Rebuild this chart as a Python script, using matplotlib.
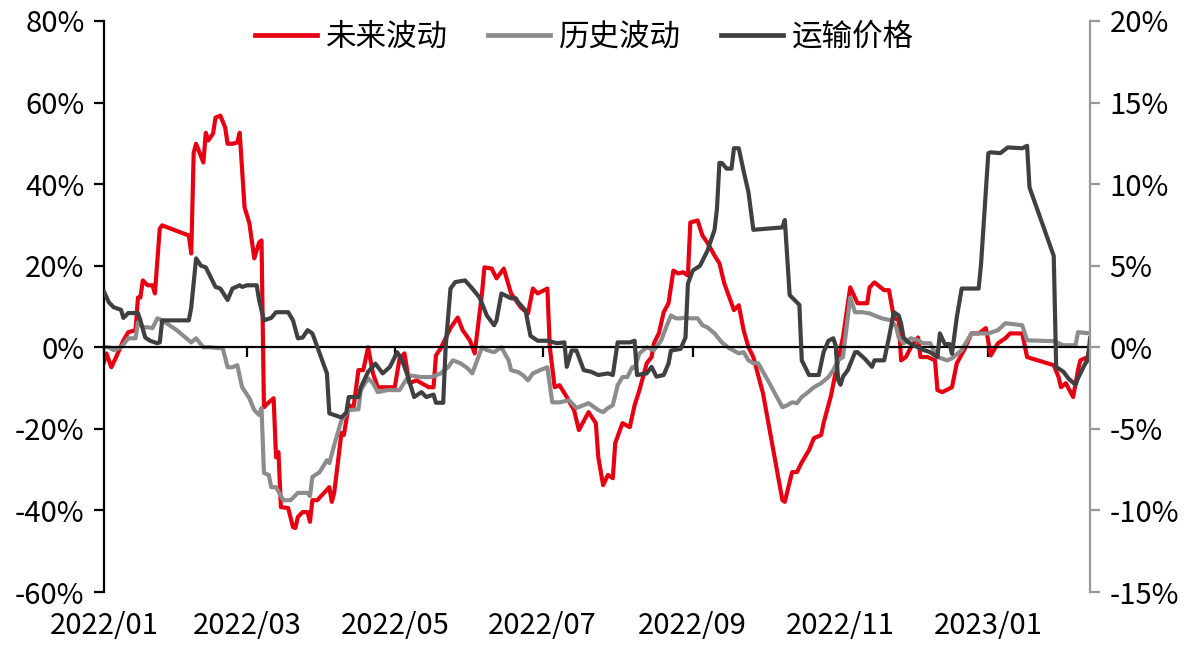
import matplotlib
matplotlib.use('Agg')
import matplotlib.pyplot as plt
import matplotlib.dates as mdates
from matplotlib.ticker import FixedLocator, FuncFormatter
import pandas as pd

plt.rcParams['font.family'] = ['Noto Sans CJK SC', 'DejaVu Sans']

# ---------------- data ----------------
START = '2022-01-04'
END = '2023-02-15'
tick_dates = ['2022-01-04', '2022-03-04', '2022-05-04', '2022-07-04',
              '2022-09-04', '2022-11-04', '2023-01-04']
tick_labels = ['2022/01', '2022/03', '2022/05', '2022/07', '2022/09', '2022/11', '2023/01']

series_names = ['未来波动', '历史波动', '运输价格']

# 未来波动 (left axis, %) : day offset from START, value
red_days = [0, 1, 3, 5, 8, 10, 13, 14, 15, 16,
            18, 20, 21, 23, 24, 35, 36, 37, 38, 41,
            42, 43, 45, 46, 48, 50, 51, 53, 55, 56,
            58, 60, 62, 64, 65, 66, 68, 70, 71, 72,
            73, 76, 78, 79, 80, 82, 84, 85, 86, 88,
            93, 94, 95, 98, 99, 101, 103, 105, 107, 109,
            111, 113, 115, 120, 122, 124, 126, 129, 134, 136,
            137, 139, 143, 146, 148, 151, 153, 156, 157, 160,
            162, 165, 168, 172, 175, 177, 179, 183, 184, 186,
            188, 191, 194, 196, 200, 203, 204, 206, 208, 210,
            211, 214, 217, 219, 221, 224, 226, 227, 229, 231,
            233, 235, 237, 239, 241, 242, 245, 247, 249, 252,
            254, 256, 260, 262, 264, 266, 268, 272, 280, 281,
            284, 286, 288, 291, 293, 296, 297, 300, 303, 305,
            308, 311, 315, 316, 318, 322, 324, 326, 328, 329,
            331, 333, 336, 337, 340, 343, 344, 346, 350, 352,
            355, 358, 361, 364, 366, 369, 372, 374, 379, 381,
            392, 394, 395, 397, 400, 402, 403, 406, 407]
red_vals = [-3.6, -1.5, -4.9, -2.4, 1.7, 3.7, 4.2, 12.2, 12.2, 16.4,
            15.2, 15.2, 13.2, 29.1, 29.9, 27.4, 23.0, 47.7, 49.9, 45.3,
            52.6, 50.7, 52.4, 56.3, 56.8, 53.9, 49.9, 49.9, 50.2, 52.6,
            34.3, 30.4, 21.8, 25.7, 26.2, -14.7, -13.5, -12.5, -27.0, -25.7,
            -39.2, -39.4, -44.1, -44.3, -41.6, -40.4, -40.4, -42.8, -37.5, -37.5,
            -34.3, -37.9, -35.7, -21.0, -21.5, -14.2, -14.7, -5.6, -5.6, 0.0,
            -6.4, -9.8, -9.8, -9.8, -2.7, -1.5, -8.8, -8.1, -9.8, -9.8,
            -2.0, -0.2, 4.7, 7.3, 4.2, 1.7, -1.5, 13.2, 19.6, 19.3,
            16.9, 19.3, 13.2, 9.8, 8.3, 14.4, 13.2, 14.4, 0.0, -9.8,
            -9.3, -12.2, -15.4, -20.3, -15.9, -18.6, -26.9, -33.8, -31.3, -32.1,
            -23.5, -18.6, -19.6, -14.2, -10.5, -3.9, -2.4, 1.0, 3.4, 8.6,
            10.8, 18.8, 18.1, 18.4, 17.6, 30.6, 31.1, 27.4, 25.7, 22.5,
            20.6, 15.7, 9.1, 10.3, 4.2, 0.0, -2.4, -11.3, -37.5, -37.9,
            -30.6, -30.6, -28.2, -25.2, -22.3, -21.5, -18.6, -12.0, -3.2, 2.4,
            14.7, 10.8, 10.8, 14.7, 15.9, 14.0, 14.0, 7.3, 6.6, -3.2,
            -2.4, 0.0, 2.4, -2.4, -2.4, -3.2, -10.5, -11.0, -9.8, -3.9,
            -0.7, 3.4, 3.4, 4.7, -2.0, 1.0, 2.2, 3.4, 3.4, -2.4,
            -4.4, -7.3, -9.8, -8.8, -12.2, -5.6, -3.2, -2.4, 0.0]

# 历史波动 (left axis, %)
gray_days = [0, 2, 4, 7, 10, 13, 14, 16, 18, 20,
             22, 24, 30, 36, 38, 41, 44, 47, 49, 51,
             53, 55, 57, 60, 62, 64, 65, 66, 68, 69,
             71, 74, 77, 80, 84, 85, 86, 89, 92, 93,
             95, 98, 101, 105, 106, 109, 111, 113, 117, 122,
             124, 126, 131, 135, 139, 142, 144, 147, 150, 152,
             154, 156, 158, 161, 164, 167, 168, 171, 173, 175,
             177, 180, 183, 185, 188, 192, 195, 200, 204, 206,
             208, 210, 212, 214, 216, 218, 219, 221, 224, 227,
             230, 232, 234, 236, 238, 240, 242, 245, 247, 249,
             252, 255, 258, 262, 264, 266, 268, 270, 274, 278,
             280, 282, 284, 286, 288, 290, 293, 296, 299, 301,
             303, 305, 307, 308, 310, 313, 316, 318, 321, 325,
             327, 328, 330, 333, 336, 338, 341, 344, 348, 350,
             354, 358, 361, 365, 369, 372, 379, 381, 392, 396,
             401, 402, 407]
gray_vals = [0.0, 0.0, -0.7, 0.0, 2.2, 2.2, 6.1, 4.9, 4.9, 4.7,
             7.1, 6.6, 4.2, 1.2, 2.2, 0.0, 0.0, -0.2, -0.2, -4.9,
             -4.9, -4.4, -9.8, -12.5, -15.4, -16.6, -14.9, -30.8, -31.3, -34.3,
             -34.3, -37.5, -37.5, -35.7, -35.7, -36.5, -31.8, -30.6, -27.7, -28.4,
             -24.0, -17.9, -15.4, -15.2, -10.5, -7.6, -8.8, -11.0, -10.5, -10.5,
             -8.6, -6.9, -7.3, -7.3, -6.4, -4.9, -3.2, -3.9, -5.1, -6.4,
             -3.2, 0.0, -0.7, -1.2, 0.0, -3.2, -5.6, -6.1, -6.9, -8.1,
             -6.4, -5.6, -4.9, -13.5, -13.5, -13.0, -14.9, -13.7, -15.4, -15.9,
             -14.9, -14.2, -9.3, -7.3, -7.3, -4.9, -5.1, -1.5, 0.0, -0.7,
             1.7, 4.9, 7.8, 7.1, 7.1, 7.3, 7.1, 7.1, 5.4, 4.9,
             3.4, 1.2, -0.2, -1.5, -1.2, -3.2, -3.9, -3.9, -8.1, -12.5,
             -14.7, -14.2, -13.5, -13.7, -12.2, -11.3, -9.8, -8.8, -7.3, -5.6,
             -3.2, -2.4, 7.3, 12.2, 8.6, 8.6, 8.3, 7.8, 7.1, 6.6,
             4.9, 2.4, 1.0, 2.2, 1.7, 1.0, 1.0, -2.4, -3.2, -2.7,
             -0.7, 3.4, 3.4, 3.4, 4.2, 5.9, 5.4, 1.7, 1.5, 0.5,
             0.5, 3.7, 3.4]

# 运输价格 (right axis, %)
dark_days = [0, 2, 4, 7, 8, 10, 14, 15, 17, 19,
             22, 23, 24, 35, 36, 38, 40, 42, 44, 46,
             48, 51, 53, 56, 57, 59, 63, 64, 66, 69,
             71, 76, 78, 80, 82, 84, 86, 89, 92, 93,
             95, 98, 100, 101, 105, 106, 109, 112, 115, 118,
             121, 123, 125, 128, 131, 133, 136, 137, 140, 141,
             143, 145, 149, 152, 155, 158, 161, 162, 164, 168,
             170, 171, 174, 176, 179, 183, 187, 190, 191, 193,
             195, 198, 201, 204, 208, 210, 212, 217, 219, 220,
             224, 226, 228, 231, 233, 234, 238, 240, 241, 243,
             246, 249, 252, 253, 254, 255, 257, 259, 260, 262,
             264, 266, 268, 280, 281, 283, 287, 288, 289, 291,
             295, 297, 299, 301, 302, 303, 304, 305, 307, 310,
             311, 314, 317, 318, 322, 324, 326, 328, 329, 330,
             332, 336, 338, 341, 344, 345, 347, 349, 350, 352,
             354, 361, 362, 365, 366, 370, 373, 379, 381, 382,
             392, 393, 396, 398, 401, 402, 405, 406, 407]
dark_vals = [3.4, 2.75, 2.45, 2.3, 1.8, 2.1, 2.1, 1.65, 0.6, 0.4,
             0.25, 0.3, 1.65, 1.65, 2.45, 5.45, 5.0, 4.9, 4.3, 3.7,
             3.6, 2.9, 3.6, 3.8, 3.7, 3.8, 3.8, 2.9, 1.65, 1.8,
             2.15, 2.15, 1.65, 0.55, 0.6, 1.05, 0.85, -0.37, -1.6, -4.05,
             -4.15, -4.3, -4.0, -3.05, -3.05, -2.45, -1.5, -1.0, -1.6, -1.2,
             -0.3, -0.8, -1.6, -3.05, -2.75, -3.05, -2.9, -3.4, -3.4, 0.0,
             3.6, 4.0, 4.1, 3.6, 3.05, 1.95, 1.35, 1.65, 3.3, 3.0,
             3.0, 2.75, 2.25, 0.7, 0.4, 0.4, 0.25, 0.3, -1.2, -0.2,
             -0.2, -1.4, -1.5, -1.7, -1.6, -1.7, 0.3, 0.3, 0.4, -1.7,
             -1.6, -1.2, -1.8, -1.7, -1.0, -0.2, -0.1, 0.6, 3.9, 4.7,
             5.0, 5.9, 7.2, 8.5, 11.3, 11.3, 10.95, 10.95, 12.2, 12.2,
             10.8, 9.5, 7.2, 7.35, 7.8, 3.2, 2.6, -0.8, -1.1, -1.7,
             -1.7, -0.3, 0.4, 0.55, 0.1, -2.0, -2.3, -1.8, -1.4, -0.3,
             -0.3, -0.7, -1.2, -0.8, -0.8, 0.6, 2.15, 1.95, 1.45, 0.6,
             0.3, 0.0, -0.15, -0.3, -0.6, 0.85, 0.2, 0.2, -0.4, 1.85,
             3.6, 3.6, 5.1, 11.9, 11.95, 11.9, 12.25, 12.2, 12.35, 9.8,
             5.6, -1.2, -1.5, -1.9, -2.3, -1.9, -1.0, -0.8, 0.55]

left_ticks = [-60, -40, -20, 0, 20, 40, 60, 80]
right_ticks = [-15, -10, -5, 0, 5, 10, 15, 20]

RED = '#E60012'
GRAY = '#8C8C8C'
DARK = '#404040'

# ---------------- helpers ----------------
start = pd.Timestamp(START)


def to_x(days):
    return mdates.date2num(start + pd.to_timedelta(days, unit='D'))


xs_ticks = mdates.date2num(pd.to_datetime(tick_dates))

fig = plt.figure(figsize=(12, 6.54), dpi=100)
ax = fig.add_axes([0.0867, 0.0948, 0.8217, 0.8731])
ax2 = ax.twinx()

LW = 3.0
l1, = ax.plot(to_x(red_days), red_vals, color=RED, lw=LW, label=series_names[0])
l2, = ax.plot(to_x(gray_days), gray_vals, color=GRAY, lw=LW, label=series_names[1])
l3, = ax2.plot(to_x(dark_days), dark_vals, color=DARK, lw=LW, label=series_names[2])

ax.set_xlim(mdates.date2num(pd.Timestamp(START)), mdates.date2num(pd.Timestamp(END)))
ax.set_ylim(-60, 80)
ax2.set_ylim(-15, 20)

pct = FuncFormatter(lambda v, p: f'{v:.0f}%')
ax.yaxis.set_major_locator(FixedLocator(left_ticks))
ax.yaxis.set_major_formatter(pct)
ax2.yaxis.set_major_locator(FixedLocator(right_ticks))
ax2.yaxis.set_major_formatter(pct)

FS = 21
ax.tick_params(axis='y', labelsize=FS, length=7, width=1.6, pad=7, colors='black')
ax2.tick_params(axis='y', labelsize=FS, length=7, width=1.6, pad=7,
                color='#999999', labelcolor='black')

# x axis: spine at zero with short ticks, labels at bottom via secondary axis
ax.spines['bottom'].set_position(('data', 0))
ax.spines['bottom'].set_linewidth(1.6)
ax.xaxis.set_major_locator(FixedLocator(xs_ticks))
ax.tick_params(axis='x', length=7, width=1.6, direction='out', labelbottom=False)

sec = ax.secondary_xaxis('bottom')
sec.xaxis.set_major_locator(FixedLocator(xs_ticks))
sec.set_xticklabels(tick_labels)
sec.tick_params(axis='x', length=0, pad=14, labelsize=FS)
sec.spines['bottom'].set_visible(False)

for s in ['top', 'right']:
    ax.spines[s].set_visible(False)
ax.spines['left'].set_linewidth(1.6)
for s in ['top', 'left', 'bottom']:
    ax2.spines[s].set_visible(False)
ax2.spines['right'].set_color('#999999')
ax2.spines['right'].set_linewidth(1.6)

leg = ax2.legend(handles=[l1, l2, l3], loc='upper center', bbox_to_anchor=(0.487, 1.047),
                 ncol=3, frameon=False, fontsize=22, handlelength=2.05,
                 handletextpad=0.28, columnspacing=1.3)
for h in leg.get_lines():
    h.set_linewidth(3.4)

fig.savefig('out.png', dpi=100)
